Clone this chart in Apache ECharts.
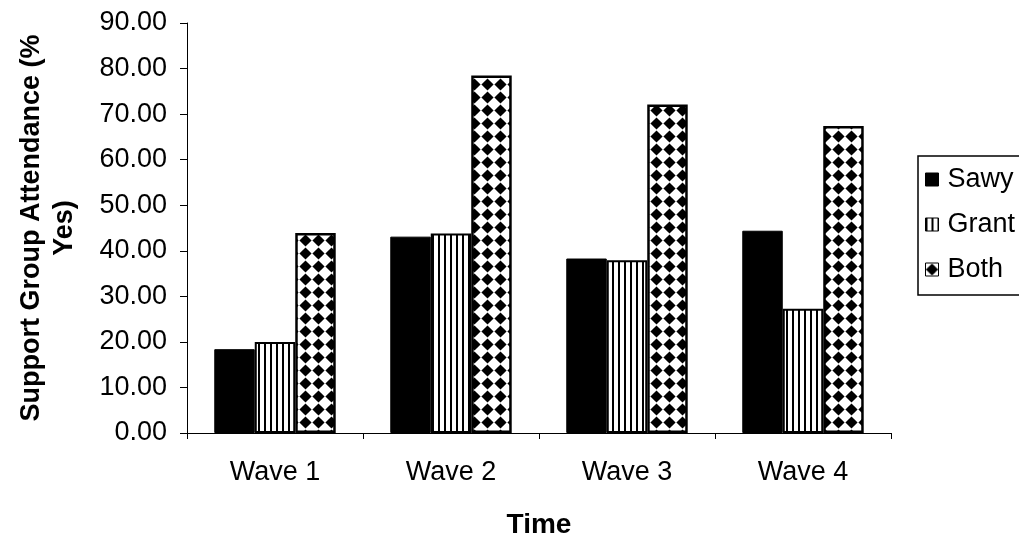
<!DOCTYPE html>
<html>
<head>
<meta charset="utf-8">
<script src="https://cdn.jsdelivr.net/npm/echarts@6/dist/echarts.min.js"></script>
<style>
html,body{margin:0;padding:0;background:#fff;}
#chart{width:1019px;height:544px;}
</style>
</head>
<body>
<div id="chart"></div>
<script>
// ---- data ----
var categories = ['Wave 1', 'Wave 2', 'Wave 3', 'Wave 4'];
var seriesNames = ['Sawy', 'Grant', 'Both'];
var savvyValues = [18.4, 43.1, 38.3, 44.4];
var grantValues = [20.0, 43.8, 37.9, 27.3];
var bothValues = [43.9, 78.5, 72.1, 67.4];
var yAxisTitle = 'Support Group Attendance (%\nYes)';
var xAxisTitle = 'Time';

// ---- patterns ----
function stripePattern() {
  var c = document.createElement('canvas');
  c.width = 6; c.height = 6;
  var g = c.getContext('2d');
  g.fillStyle = '#fff'; g.fillRect(0, 0, 6, 6);
  g.fillStyle = '#000'; g.fillRect(0, 0, 2, 6);
  return c;
}
function checkerPattern() {
  var d = 13, r = 6.1;
  var c = document.createElement('canvas');
  c.width = d; c.height = d;
  var g = c.getContext('2d');
  g.fillStyle = '#fff'; g.fillRect(0, 0, d, d);
  g.fillStyle = '#000';
  var cx = d / 2, cy = d / 2;
  g.beginPath();
  g.moveTo(cx, cy - r);
  g.lineTo(cx + r, cy);
  g.lineTo(cx, cy + r);
  g.lineTo(cx - r, cy);
  g.closePath();
  g.fill();
  return c;
}

var font = 'Liberation Sans, Arial, sans-serif';
var chart = echarts.init(document.getElementById('chart'), null, {renderer: 'canvas'});
chart.setOption({
  animation: false,
  backgroundColor: '#fff',
  textStyle: {fontFamily: font, color: '#000'},
  grid: {left: 187, right: 128, top: 23, bottom: 109, containLabel: false},
  legend: {
    orient: 'vertical',
    left: 918, top: 156,
    data: seriesNames,
    icon: 'rect',
    itemWidth: 13, itemHeight: 13,
    itemGap: 18,
    padding: [10, 12, 12, 7],
    borderColor: '#000', borderWidth: 1.5,
    textStyle: {fontFamily: font, fontSize: 27, lineHeight: 27, color: '#000', padding: [0, 0, 0, 4]},
    itemStyle: {borderColor: '#000', borderWidth: 1}
  },
  xAxis: {
    type: 'category',
    data: categories,
    name: xAxisTitle,
    nameLocation: 'middle',
    nameGap: 78,
    nameTextStyle: {fontFamily: font, fontSize: 28, fontWeight: 'bold', color: '#000'},
    axisLine: {lineStyle: {color: '#000', width: 1}},
    axisTick: {show: true, length: 6, lineStyle: {color: '#000'}},
    axisLabel: {fontFamily: font, fontSize: 27, color: '#000', margin: 26}
  },
  yAxis: {
    type: 'value',
    min: 0, max: 90, interval: 10,
    name: yAxisTitle,
    nameLocation: 'middle',
    nameGap: 106,
    nameTextStyle: {fontFamily: font, fontSize: 27, fontWeight: 'bold', color: '#000', lineHeight: 33},
    axisLine: {show: true, lineStyle: {color: '#000', width: 1}},
    axisTick: {show: true, length: 7, lineStyle: {color: '#000'}},
    splitLine: {show: false},
    axisLabel: {fontFamily: font, fontSize: 27, color: '#000', margin: 20,
      formatter: function (v) { return v.toFixed(2); }}
  },
  series: [
    {name: seriesNames[0], type: 'bar', data: savvyValues, barGap: '0%', barCategoryGap: '31%',
      itemStyle: {color: '#000', borderColor: '#000', borderWidth: 1}},
    {name: seriesNames[1], type: 'bar', data: grantValues, barGap: '0%', barCategoryGap: '31%',
      itemStyle: {color: {image: stripePattern(), repeat: 'repeat'}, borderColor: '#000', borderWidth: 2}},
    {name: seriesNames[2], type: 'bar', data: bothValues, barGap: '0%', barCategoryGap: '31%',
      itemStyle: {color: {image: checkerPattern(), repeat: 'repeat'}, borderColor: '#000', borderWidth: 2.5}}
  ]
});
</script>
</body>
</html>
